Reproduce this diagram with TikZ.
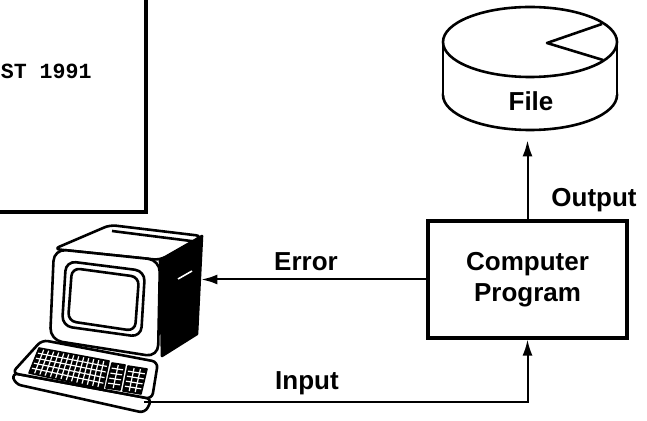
\documentclass[tikz,border=0pt]{standalone}
\usepackage{fontspec}
\setmainfont{Liberation Sans}
\newfontfamily\typefont{Liberation Mono}
\usetikzlibrary{arrows.meta,calc}

\tikzset{
  lbl/.style={font=\bfseries\fontsize{13}{15.5}\selectfont, inner sep=0pt},
  arr/.style={line width=1pt, -{Latex[length=8pt,width=5pt]}},
  outline/.style={line width=1.3pt, line join=round},
  keycut/.style={white, line width=0.6pt},
}

% key block: corners tl, tr, br, bl; number of row and column cuts
\newcommand{\keyblock}[6]{%
  \fill (#1) -- (#2) -- (#3) -- (#4) -- cycle;
  \foreach \k in {1,...,#5}
    \draw[keycut] ($(#1)!{\k/(#5+1)}!(#4)$) -- ($(#2)!{\k/(#5+1)}!(#3)$);
  \foreach \k in {1,...,#6}
    \draw[keycut] ($(#1)!{\k/(#6+1)}!(#2)$) -- ($(#4)!{\k/(#6+1)}!(#3)$);
  \draw[line width=0.8pt, line join=round] (#1) -- (#2) -- (#3) -- (#4) -- cycle;
}

\begin{document}
\begin{tikzpicture}[x=0.5pt, y=-0.5pt]
  \clip (0,0) rectangle (647,421);

  % note sheet, top left
  \draw[line width=1.6pt] (-10,-10) rectangle (146,212);
  \node[anchor=base east, inner sep=0pt, font=\typefont\bfseries\fontsize{10.8}{13}\selectfont] (date) at (92,79) {ST 1991};

  % disk file
  \draw[outline, fill=white] (530,95) ellipse [x radius=87, y radius=35];
  \fill[white] (443,42) rectangle (617,95);
  \draw[outline] (443,42) -- (443,95) (617,42) -- (617,95);
  \draw[outline, fill=white] (530,42) ellipse [x radius=87, y radius=35];
  \draw[outline] (602,24) -- (547,43) -- (603,60);
  \node[inner sep=0pt, minimum width=87pt, minimum height=61.5pt] (disk) at (530,68.5) {};
  \node[lbl] (file) at (531,101) {File};

  % program box
  \node[draw, line width=1.6pt, minimum width=99.5pt, minimum height=58.5pt,
        align=center, lbl] (prog) at (527.5,279.5) {Computer\\Program};

  % terminal
  \node[inner sep=0pt, minimum width=95pt, minimum height=97pt] (term) at (106,320) {};
  \coordinate (kbd) at (144,402);
  \draw[outline, fill=black] (160,260) -- (202,236) -- (197,334) -- (162,356) -- cycle;
  \draw[outline, fill=white, rounded corners=3] (54,249) -- (110,225) -- (202,236) -- (160,260) -- cycle;
  \draw[outline] (112,231) -- (199,242);
  \draw[outline, fill=white, rounded corners=6] (54,249) -- (160,260) -- (158,357) -- (50,340) -- cycle;
  \draw[outline, rounded corners=5] (66,261) -- (145,271) -- (141,337) -- (62,326) -- cycle;
  \draw[outline, rounded corners=4] (72,268) -- (139,277) -- (135,331) -- (68,321) -- cycle;
  \draw[white, line width=0.8pt] (178,279) -- (192,271);
  % keyboard
  \draw[outline, fill=white, rounded corners=3] (12,373) -- (15,384) -- (145,413) -- (152,399) -- cycle;
  \draw[outline, fill=white, rounded corners=3] (42,340) -- (158,362) -- (152,399) -- (12,373) -- cycle;
  \keyblock{39,348}{109,361}{103,389}{29,373}{4}{13}
  \keyblock{112,363}{125,365}{120,390}{106,388}{4}{1}
  \keyblock{128,366}{147,369}{141,394}{123,391}{4}{2}

  % data flow
  \draw[arr, shorten >=5pt] (prog.north) -- (prog.north |- disk.south);
  \node[lbl] (out) at (594,200) {Output};
  \draw[arr] (prog.west) -- (prog.west -| term.east);
  \node[lbl] (err) at (306,262) {Error};
  \draw[arr] (kbd) -| (prog.south);
  \node[lbl] (in) at (307,383) {Input};
\end{tikzpicture}
\end{document}
